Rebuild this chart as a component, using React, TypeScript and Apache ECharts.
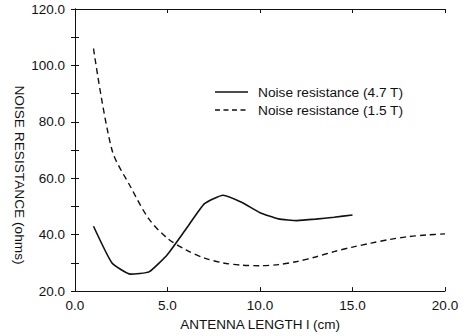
import React, { useEffect, useRef } from "react";
import * as echarts from "echarts";

const xHigh = [1, 2, 3, 4, 5, 6, 7, 8, 9, 10, 11, 12, 13, 14, 15];
const yHigh = [43, 30, 26, 26.8, 33, 42, 51, 54, 51.5, 47.8, 45.6, 45, 45.5, 46.2, 47];
const xLow = [1, 2, 3, 4, 5, 6, 7, 8, 9, 10, 11, 12, 13, 14, 15, 16, 17, 18, 19, 20];
const yLow = [106, 70, 57, 45.5, 38.7, 34.6, 31.7, 30, 29.2, 29, 29.4, 30.5, 32.1, 34, 35.6, 37, 38.3, 39.3, 39.9, 40.3];
const seriesNames = ["Noise resistance (4.7 T)", "Noise resistance (1.5 T)"];
const xTitle = "ANTENNA LENGTH l (cm)";
const yTitle = "NOISE RESISTANCE (ohms)";

const FONT = "'Liberation Sans', Arial, Helvetica, sans-serif";

export default function App() {
  const ref = useRef<HTMLDivElement>(null);
  useEffect(() => {
    if (!ref.current) return;
    const chart = echarts.init(ref.current, undefined, { renderer: "svg" });
    const axisLine = { show: true, lineStyle: { color: "#111", width: 1 } };
    const tick = { show: true, inside: true, length: 4, lineStyle: { color: "#111" } };
    const legendRows = seriesNames.map((name, i) => {
      const y = 92 + i * 18;
      return {
        type: "group",
        children: [
          {
            type: "line",
            shape: { x1: 215, y1: y, x2: 248, y2: y },
            style: { stroke: "#111", lineWidth: i === 0 ? 1.6 : 1.4, lineDash: i === 0 ? null : [5, 3.5] },
          },
          {
            type: "text",
            x: 258,
            y,
            style: {
              text: name,
              fontFamily: FONT,
              fontSize: 13.7,
              fill: "#111",
              verticalAlign: "middle",
            },
          },
        ],
      };
    });
    const yTitleText = {
      type: "text",
      x: 19,
      y: 175,
      rotation: -Math.PI / 2,
      style: {
        text: yTitle,
        fontFamily: FONT,
        fontSize: 13.7,
        fill: "#111",
        align: "center",
        verticalAlign: "middle",
      },
    };
    chart.setOption({
      animation: false,
      backgroundColor: "#fff",
      textStyle: { fontFamily: FONT, color: "#111" },
      grid: { left: 75, right: 23, top: 9, bottom: 43 },
      graphic: [...legendRows, yTitleText],
      xAxis: [
        {
          type: "value",
          min: 0,
          max: 20,
          interval: 5,
          name: xTitle,
          nameLocation: "middle",
          nameGap: 23,
          nameTextStyle: { fontFamily: FONT, fontSize: 13.5, color: "#111" },
          axisLine,
          axisTick: tick,
          splitLine: { show: false },
          axisLabel: {
            fontFamily: FONT,
            fontSize: 13.5,
            color: "#111",
            margin: 7,
            formatter: (v: number) => v.toFixed(1),
          },
        },
        {
          type: "value",
          position: "top",
          min: 0,
          max: 20,
          interval: 5,
          axisLine,
          axisTick: tick,
          splitLine: { show: false },
          axisLabel: { show: false },
        },
      ],
      yAxis: [
        {
          type: "value",
          min: 20,
          max: 120,
          interval: 10,
          axisLine,
          axisTick: tick,
          splitLine: { show: false },
          axisLabel: {
            fontFamily: FONT,
            fontSize: 13.5,
            color: "#111",
            margin: 10,
            formatter: (v: number) => (v % 20 === 0 ? v.toFixed(1) : ""),
          },
        },
        {
          type: "value",
          position: "right",
          min: 20,
          max: 120,
          interval: 10,
          axisLine,
          axisTick: tick,
          splitLine: { show: false },
          axisLabel: { show: false },
        },
      ],
      series: [
        {
          name: seriesNames[0],
          type: "line",
          data: xHigh.map((x, i) => [x, yHigh[i]]),
          showSymbol: false,
          symbol: "none",
          smooth: 0.15,
          lineStyle: { color: "#111", width: 1.6, type: "solid" },
        },
        {
          name: seriesNames[1],
          type: "line",
          data: xLow.map((x, i) => [x, yLow[i]]),
          showSymbol: false,
          symbol: "none",
          smooth: 0.3,
          lineStyle: { color: "#111", width: 1.4, type: [6, 4] },
        },
      ],
    });
    return () => chart.dispose();
  }, []);
  return (
    <div
      ref={ref}
      style={{ position: "absolute", left: 0, top: 0, width: 468, height: 336 }}
    />
  );
}
